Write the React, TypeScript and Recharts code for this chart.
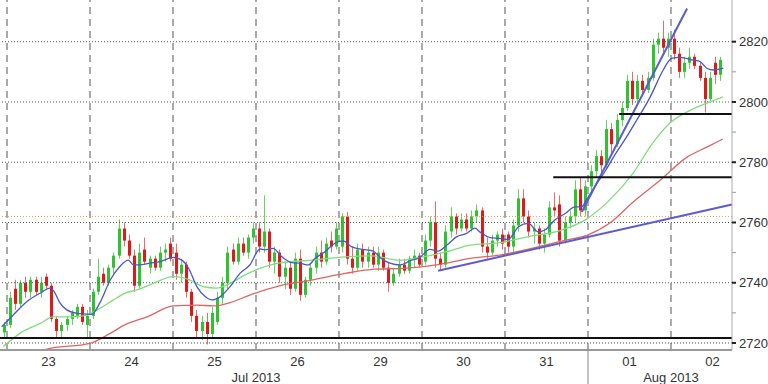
import React from "react";
import { ComposedChart, Bar, Line, XAxis, YAxis, ReferenceLine } from "recharts";

// [open, high, low, close] per intraday bar, 16 bars per session
type Candle = [number, number, number, number];

const jul22: Candle[] = [[2723.5, 2727, 2722, 2726]];
const jul23: Candle[] = [
  [2726, 2737, 2725, 2735], [2738, 2741, 2731, 2733], [2733, 2741, 2732, 2740], [2740, 2742, 2735, 2737],
  [2737, 2742, 2735, 2741], [2741, 2742, 2736, 2737], [2737, 2742, 2735, 2740], [2742, 2743, 2738, 2739],
  [2739, 2740, 2727, 2728], [2728, 2729, 2722, 2724], [2724, 2727, 2722, 2726], [2726, 2729, 2724, 2728],
  [2728, 2731, 2726, 2730], [2729, 2733, 2728, 2732], [2732, 2733, 2726, 2727], [2726, 2731, 2722, 2729],
];
const jul24: Candle[] = [
  [2729, 2738, 2728, 2737], [2737, 2748, 2736, 2742], [2743, 2745, 2739, 2740], [2740, 2746, 2739, 2745],
  [2745, 2750, 2743, 2749], [2749, 2761, 2748, 2758], [2758, 2760, 2752, 2754], [2754, 2756, 2748, 2749],
  [2749, 2751, 2737, 2739], [2739, 2753, 2738, 2750], [2751, 2755, 2746, 2747], [2745, 2749, 2743, 2748],
  [2748, 2749, 2744, 2745], [2745, 2752, 2744, 2750], [2750, 2753, 2747, 2751], [2753, 2755, 2747, 2748],
];
const jul25: Candle[] = [
  [2750, 2753, 2741, 2743], [2743, 2748, 2740, 2746], [2746, 2747, 2735, 2737], [2737, 2738, 2727, 2729],
  [2729, 2731, 2722, 2724], [2724, 2729, 2721, 2727], [2727, 2730, 2719.5, 2723], [2723, 2732, 2722, 2730],
  [2727, 2737, 2726, 2735], [2735, 2742, 2733, 2740], [2740, 2752, 2738, 2750], [2751, 2753, 2746, 2747],
  [2747, 2755, 2746, 2753], [2753, 2755, 2749, 2750], [2750, 2756, 2748, 2755], [2755, 2760, 2753, 2758],
];
const jul26: Candle[] = [
  [2758, 2760, 2750, 2752], [2752, 2769, 2750, 2757], [2757, 2758, 2745, 2747], [2747, 2752, 2743, 2750],
  [2750, 2751, 2740, 2742], [2742, 2747, 2738, 2745], [2745, 2747, 2736, 2738], [2738, 2750, 2737, 2748],
  [2748, 2751, 2734, 2736], [2736, 2742, 2735, 2741], [2741, 2746, 2739, 2745], [2745, 2752, 2743, 2750],
  [2750, 2754, 2745, 2747], [2747, 2755, 2746, 2753], [2754, 2757, 2750, 2752], [2752, 2760, 2751, 2758],
];
const jul29: Candle[] = [
  [2752, 2763, 2750, 2762], [2762, 2763.5, 2746, 2748], [2748, 2752, 2743, 2745], [2745, 2753, 2744, 2751],
  [2751, 2753, 2745, 2747], [2747, 2752, 2745, 2750], [2750, 2752, 2745, 2746], [2746, 2752, 2744, 2750],
  [2750, 2751, 2744, 2745], [2745, 2747, 2737, 2740], [2740, 2745, 2739, 2743], [2743, 2748, 2742, 2746],
  [2746, 2748, 2743, 2744], [2744, 2749, 2743, 2748], [2748, 2751, 2745, 2749], [2749, 2750, 2745, 2746],
];
const jul30: Candle[] = [
  [2747, 2756, 2746, 2754], [2754, 2762, 2752, 2760], [2760, 2767, 2745, 2748], [2748, 2750, 2744, 2746],
  [2746, 2759, 2745, 2757], [2757, 2765, 2755, 2762], [2762, 2763, 2756, 2758], [2758, 2763, 2757, 2761],
  [2761, 2763, 2757, 2758], [2758, 2764, 2757, 2762], [2762, 2766, 2760, 2764], [2764, 2765, 2750, 2752],
  [2752, 2755, 2748, 2750], [2750, 2756, 2749, 2754], [2754, 2757, 2752, 2756], [2756, 2758, 2751, 2753],
];
const jul31: Candle[] = [
  [2756, 2757, 2750, 2752], [2752, 2761, 2750, 2759], [2759, 2771, 2757, 2768], [2768, 2771, 2760, 2762],
  [2762, 2764, 2755, 2757], [2757, 2760, 2753, 2758], [2758, 2759, 2751, 2753], [2753, 2758, 2750, 2756],
  [2756, 2767, 2755, 2765], [2765, 2770, 2762, 2764], [2766, 2769, 2752, 2754], [2754, 2762, 2753, 2760],
  [2760, 2764, 2758, 2762], [2762, 2774, 2760, 2771], [2771, 2775, 2762, 2764], [2764, 2774, 2762, 2772],
];
const aug01: Candle[] = [
  [2772, 2779, 2770, 2777], [2777, 2784, 2775, 2782], [2782, 2784, 2776, 2779], [2779, 2794, 2778, 2791],
  [2791, 2793, 2783, 2786], [2786, 2796, 2785, 2794], [2794, 2800, 2792, 2798], [2798, 2809, 2797, 2807],
  [2807, 2810, 2799, 2801], [2801, 2809, 2800, 2807], [2807, 2809, 2803, 2804], [2804, 2810, 2803, 2808],
  [2808, 2821, 2807, 2819], [2819, 2823, 2816, 2821], [2821, 2827, 2816, 2818], [2818, 2823, 2815, 2821],
];
const aug02: Candle[] = [
  [2821, 2824, 2814, 2816], [2816, 2818, 2808, 2810], [2810, 2815, 2808, 2813], [2813, 2818, 2811, 2815],
  [2815, 2816, 2811, 2812], [2812, 2813, 2807, 2808], [2808, 2810, 2796.5, 2801], [2801, 2810, 2800, 2808],
  [2813, 2815, 2806, 2809], [2809, 2815, 2807, 2814],
];

const sessions = [jul22, jul23, jul24, jul25, jul26, jul29, jul30, jul31, aug01, aug02];
const dayLabels = ["23", "24", "25", "26", "29", "30", "31", "01", "02"];
const monthLabels: Record<number, string> = { 48: "Jul 2013", 128: "Aug 2013" };
const monthBreak = 112;

// moving averages: [bar position, value]
const fastMa = [
  [-1.02, 2725.4], [1.21, 2729.3], [3.8, 2733.7], [6.36, 2736.5], [8.3, 2738.2], [9.0, 2737.3], [10.2, 2733.3],
  [11.5, 2731], [13.4, 2729.9], [15.4, 2729.6], [16.3, 2729.5], [17.9, 2733.3], [19.9, 2740.9], [21.8, 2745.5],
  [23.4, 2747.5], [24.3, 2746], [25.6, 2745.9], [27.6, 2746.5], [29.5, 2747], [32.1, 2748.4], [33.7, 2747.5],
  [35, 2744.8], [36.6, 2738.7], [38.2, 2735.4], [39.5, 2734.3], [41.1, 2735.4], [43, 2738.7], [44.9, 2743.1],
  [46.8, 2745.9], [48.8, 2751.2], [49.7, 2750.9], [51.3, 2751.4], [53, 2748.6], [54.9, 2746.7], [56.5, 2746.5],
  [58.1, 2745.9], [59.4, 2748.1], [61.3, 2750.3], [63.2, 2753.1], [64.8, 2753.9], [66.4, 2752], [68.4, 2751.1],
  [70.6, 2750.5], [71.9, 2748.4], [73.8, 2746.5], [75.8, 2745.9], [77.7, 2747.3], [79.6, 2748.4], [81.5, 2751.1],
  [83.1, 2750.5], [84.8, 2752.5], [86.7, 2755.3], [88.6, 2756.4], [90.2, 2758.1], [91.2, 2756.8], [93.1, 2755],
  [95, 2754.7], [96.6, 2754.4], [98.6, 2758.6], [100.5, 2759.7], [102.4, 2756.9], [103.7, 2757.5], [105.6, 2760.8],
  [107.6, 2763], [109.5, 2765.2], [110.8, 2765.2], [111.7, 2767.5], [113.3, 2771.9], [115.3, 2777], [117.2, 2782.5],
  [119.1, 2787.5], [120.7, 2792], [124, 2801.7], [126.5, 2810.6], [128.1, 2814.5], [129.7, 2814.8], [132.3, 2813.9],
  [133.6, 2813.4], [134.9, 2811.2], [136.2, 2810.6], [138.1, 2811.2],
];
const midMa = [
  [-0.71, 2718.8], [2.5, 2723.2], [6.4, 2726.5], [8.9, 2728.7], [11.5, 2728.7], [14.7, 2729], [17.9, 2731.5],
  [20.5, 2734.3], [22.7, 2736.5], [25, 2737.6], [28.2, 2739.8], [32.1, 2742], [35.3, 2740.9], [37.8, 2738.7],
  [40.4, 2738.2], [43, 2739.8], [45.9, 2742.6], [52.3, 2746.5], [58.7, 2747.5], [65.2, 2748.6], [70.3, 2748.9],
  [75.8, 2747.5], [79.6, 2748.4], [84.8, 2750.3], [89.3, 2752.5], [95, 2753.3], [100.5, 2755.3], [106.9, 2757.5],
  [111.4, 2760.8], [116.2, 2767.5], [120.7, 2776.4], [124.5, 2786.4], [127.8, 2793], [131.1, 2796.7],
  [134.9, 2799.6], [138, 2801.7],
];
const slowMa = [
  [4.4, 2716.5], [8.3, 2718.2], [16, 2719.9], [19.9, 2723.2], [22.7, 2726], [27, 2728.7], [32.1, 2732.3],
  [36.6, 2732.6], [39.8, 2732.3], [43, 2733.4], [46.8, 2735.9], [52.3, 2738.9], [58.7, 2740.9], [65.2, 2743.1],
  [70.9, 2744.5], [76.4, 2744.8], [82.8, 2745.9], [89.3, 2748.1], [95, 2749.2], [107.9, 2754.2], [111.9, 2755.8],
  [116.2, 2759.8], [120.5, 2766.5], [125.9, 2774], [131.1, 2781.7], [134.9, 2785], [138, 2787.7],
];

const trendLines = [
  [[83.1, 2744], [139.76, 2766]],
  [[110.8, 2763.5], [131.1, 2831]],
];
const levels = [
  { from: -1.35, value: 2721.7 },
  { from: 105.3, value: 2775 },
  { from: 118, value: 2796 },
];
const markerLevel = 2762;
const gridPrices = [2720, 2740, 2760, 2780, 2800, 2820];
const priceTicks = [2720, 2730, 2740, 2750, 2760, 2770, 2780, 2790, 2800, 2810, 2820];

const X_MIN = -1.35;
const X_MAX = 139.76;
const Y_MIN = 2717.68;
const Y_MAX = 2833.84;
const PER_DAY = 16;
const BODY_W = 3;
const FONT = "'Liberation Sans', Arial, sans-serif";

const rows: { x: number; o: number; h: number; l: number; c: number; range: [number, number] }[] = [];
let idx = -1;
sessions.forEach((day) =>
  day.forEach(([o, h, l, c]) => {
    rows.push({ x: idx + 0.5, o, h, l, c, range: [l, h] });
    idx += 1;
  })
);

const toPoints = (pts: number[][]) => pts.map(([x, v]) => ({ x, v }));
const dayTicks = dayLabels.map((_, i) => i * PER_DAY + PER_DAY / 2);
const dayBounds = dayLabels.map((_, i) => i * PER_DAY);

function CandleShape(props: any) {
  const { x, y, width, height, payload } = props;
  if (x == null || y == null || !payload) return null;
  const top = height >= 0 ? y : y + height;
  const span = Math.abs(height);
  const { o, h, l, c } = payload;
  const toPx = (v: number) => top + ((h - v) / (h - l || 1)) * span;
  const up = c >= o;
  const cx = Math.round(x + width / 2) + 0.5;
  const bodyTop = toPx(Math.max(o, c));
  const bodyH = Math.max(1, toPx(Math.min(o, c)) - bodyTop);
  return (
    <g>
      <line x1={cx} x2={cx} y1={top} y2={top + span} stroke={up ? "#5fd65f" : "#ec6a6a"} strokeWidth={1} />
      <rect x={cx - BODY_W / 2} y={bodyTop} width={BODY_W} height={bodyH} fill={up ? "#2fc42f" : "#e01818"} />
    </g>
  );
}

function DayTick(props: any) {
  const { x, y, payload } = props;
  const label = dayLabels[Math.floor(payload.value / PER_DAY)];
  return (
    <text x={x} y={y + 16} textAnchor="middle" fontSize={13} fontFamily={FONT} fill="#333">
      {label}
    </text>
  );
}

function MonthTick(props: any) {
  const { x, y, payload } = props;
  if (payload.value === monthBreak) {
    return <line x1={x} x2={x} y1={y - 20} y2={y + 14} stroke="#888" strokeWidth={1} />;
  }
  return (
    <text x={x} y={y + 11.5} textAnchor="middle" fontSize={13} fontFamily={FONT} fill="#333">
      {monthLabels[payload.value]}
    </text>
  );
}

function PriceTick(props: any) {
  const { x, y, payload } = props;
  const major = payload.value % 20 === 0;
  return (
    <g>
      <line x1={x} x2={x + 4} y1={y} y2={y} stroke={major ? "#222" : "#999"} strokeWidth={major ? 2 : 1} />
      {major && (
        <text x={x + 7} y={y} dy="0.36em" fontSize={13} fontFamily={FONT} fill="#333">
          {payload.value}
        </text>
      )}
    </g>
  );
}

export default function App() {
  return (
    <div style={{ position: "absolute", left: 0, top: 0, width: 768, height: 384, background: "#fff" }}>
      <ComposedChart width={768} height={384} data={rows} margin={{ top: 0, right: 0, bottom: 0, left: 0 }}>
        <XAxis
          dataKey="x"
          type="number"
          domain={[X_MIN, X_MAX]}
          allowDataOverflow
          ticks={dayTicks}
          interval={0}
          tick={<DayTick />}
          tickLine={false}
          tickSize={0}
          tickMargin={0}
          axisLine={{ stroke: "#9a9a9a", strokeWidth: 2 }}
          height={20}
        />
        <XAxis
          xAxisId="month"
          dataKey="x"
          type="number"
          domain={[X_MIN, X_MAX]}
          allowDataOverflow
          ticks={[48, monthBreak, 128]}
          interval={0}
          tick={<MonthTick />}
          tickLine={false}
          tickSize={0}
          tickMargin={0}
          axisLine={false}
          height={14}
        />
        <YAxis
          orientation="right"
          type="number"
          domain={[Y_MIN, Y_MAX]}
          allowDataOverflow
          ticks={priceTicks}
          interval={0}
          tick={<PriceTick />}
          tickLine={false}
          tickSize={0}
          tickMargin={0}
          axisLine={{ stroke: "#aaa" }}
          width={36}
        />

        {gridPrices.map((v) => (
          <ReferenceLine key={`g${v}`} y={v} stroke="#555" strokeDasharray="1 2" />
        ))}
        {dayBounds.map((b) => (
          <ReferenceLine key={`d${b}`} x={b} stroke="#555" strokeDasharray="7 5" />
        ))}
        <ReferenceLine y={markerLevel} stroke="#f0a040" strokeDasharray="1 2" />

        <Bar dataKey="range" barSize={3} shape={CandleShape} isAnimationActive={false} />

        <Line data={toPoints(slowMa)} dataKey="v" type="monotone" stroke="#e06464" strokeWidth={1.3} dot={false} activeDot={false} isAnimationActive={false} />
        <Line data={toPoints(midMa)} dataKey="v" type="monotone" stroke="#7fdc7f" strokeWidth={1.3} dot={false} activeDot={false} isAnimationActive={false} />
        <Line data={toPoints(fastMa)} dataKey="v" type="monotone" stroke="#4b56c8" strokeWidth={1.3} dot={false} activeDot={false} isAnimationActive={false} />

        {trendLines.map(([a, b], i) => (
          <ReferenceLine
            key={`t${i}`}
            segment={[{ x: a[0], y: a[1] }, { x: b[0], y: b[1] }]}
            stroke="#5c5cd0"
            strokeWidth={2}
            ifOverflow="visible"
          />
        ))}
        {levels.map((lv) => (
          <ReferenceLine
            key={`l${lv.value}`}
            segment={[{ x: lv.from, y: lv.value }, { x: X_MAX, y: lv.value }]}
            stroke="#111"
            strokeWidth={2}
          />
        ))}
      </ComposedChart>
    </div>
  );
}
